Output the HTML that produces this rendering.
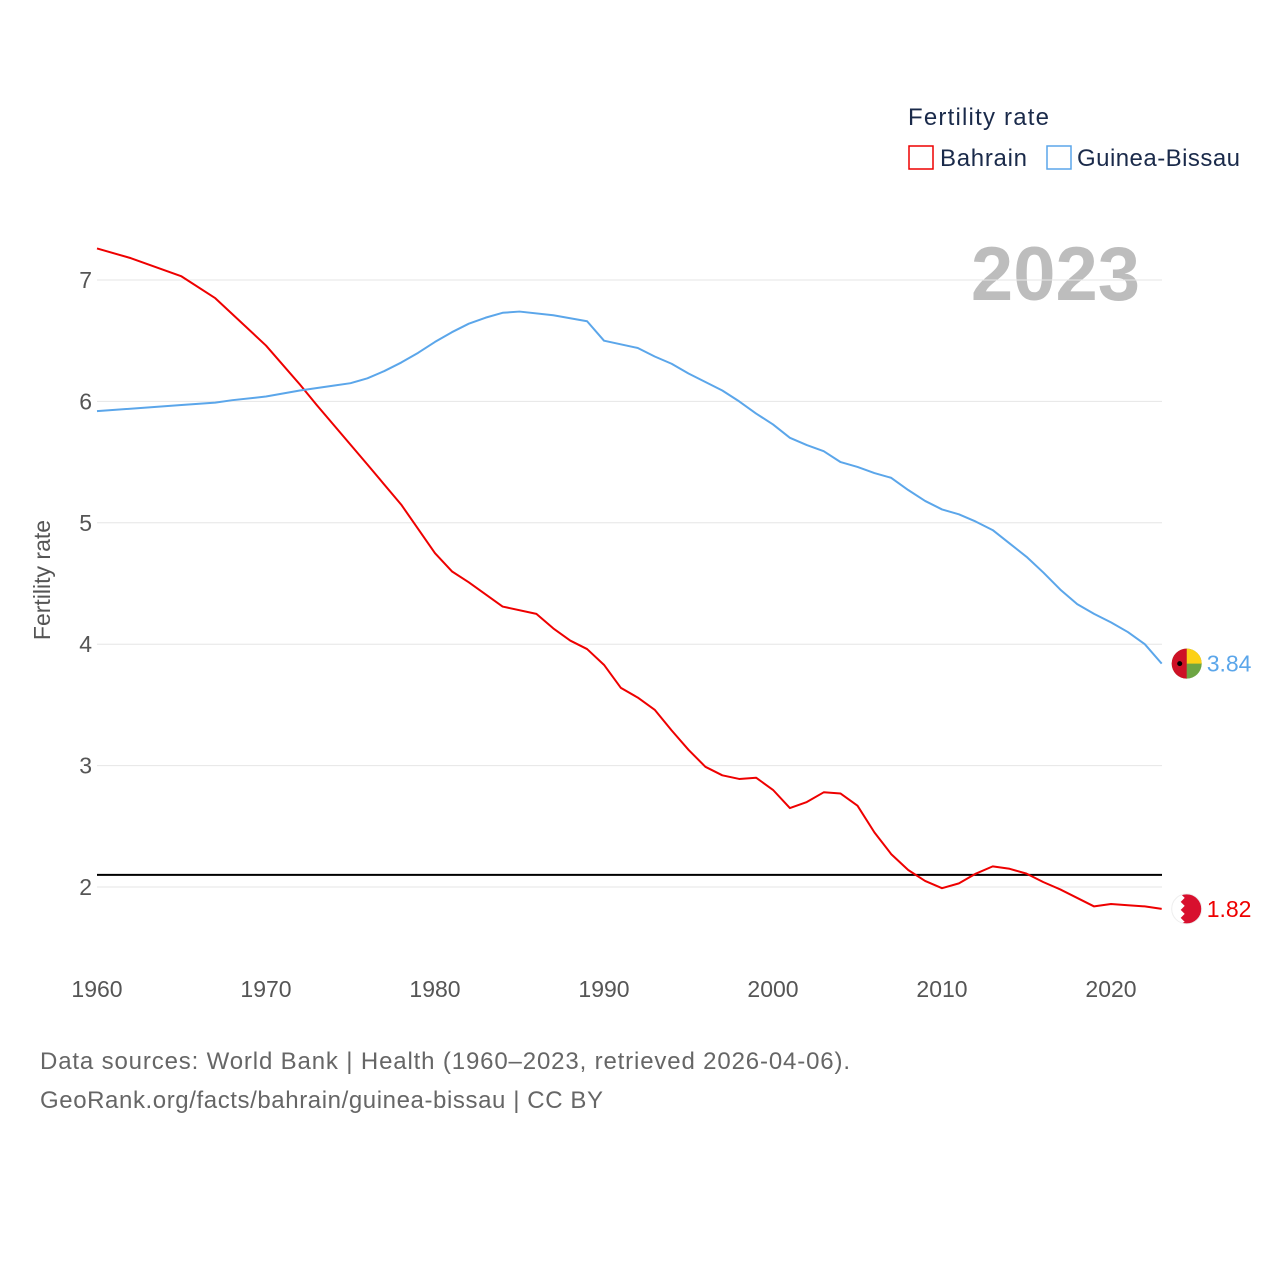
<!DOCTYPE html>
<html><head><meta charset="utf-8"><style>
body{margin:0;background:#fff;font-family:"Liberation Sans",sans-serif}
svg text{font-family:"Liberation Sans",sans-serif}
</style></head><body>
<svg id="chart" width="1280" height="1280" xmlns="http://www.w3.org/2000/svg">
<text x="908" y="125" font-size="24" fill="#1a2a4a" textLength="141">Fertility rate</text>
<rect x="909" y="146" width="24" height="23" fill="none" stroke="#e00" stroke-width="1.5"/>
<text x="940" y="166" font-size="24" fill="#1a2a4a" textLength="87">Bahrain</text>
<rect x="1047" y="146" width="24" height="23" fill="none" stroke="#5ba6ea" stroke-width="1.5"/>
<text x="1077" y="166" font-size="24" fill="#1a2a4a" textLength="163">Guinea-Bissau</text>
<text x="1140" y="300" font-size="76" font-weight="bold" fill="#bdbdbd" text-anchor="end">2023</text>
<g id="grid"></g>
<g id="xaxis"></g>
<text transform="translate(50,580) rotate(-90)" font-size="23" fill="#555" text-anchor="middle">Fertility rate</text>
<g id="series"></g>
<text x="40" y="1069" font-size="24" fill="#666" textLength="810">Data sources: World Bank | Health (1960–2023, retrieved 2026-04-06).</text>
<text x="40" y="1108" font-size="24" fill="#666" textLength="563">GeoRank.org/facts/bahrain/guinea-bissau | CC BY</text>
</svg>
<script>
const bhYears=[1960,1962,1965,1967,1970,1972,1973,1976,1978,1980,1981,1982,1983,1984,1986,1987,1988,1989,1990,1991,1992,1993,1994,1995,1996,1997,1998,1999,2000,2001,2002,2003,2004,2005,2006,2007,2008,2009,2010,2011,2012,2013,2014,2015,2016,2017,2018,2019,2020,2021,2022,2023];
const bhValues=[7.26,7.18,7.03,6.85,6.46,6.14,5.97,5.48,5.15,4.75,4.60,4.51,4.41,4.31,4.25,4.13,4.03,3.96,3.83,3.64,3.56,3.46,3.29,3.13,2.99,2.92,2.89,2.90,2.80,2.65,2.70,2.78,2.77,2.67,2.45,2.27,2.14,2.05,1.99,2.03,2.11,2.17,2.15,2.11,2.04,1.98,1.91,1.84,1.86,1.85,1.84,1.82];
const gbYears=[1960,1965,1967,1968,1970,1972,1974,1975,1976,1977,1978,1979,1980,1981,1982,1983,1984,1985,1987,1989,1990,1992,1993,1994,1995,1996,1997,1998,1999,2000,2001,2002,2003,2004,2005,2006,2007,2008,2009,2010,2011,2012,2013,2014,2015,2016,2017,2018,2019,2020,2021,2022,2023];
const gbValues=[5.92,5.97,5.99,6.01,6.04,6.09,6.13,6.15,6.19,6.25,6.32,6.40,6.49,6.57,6.64,6.69,6.73,6.74,6.71,6.66,6.50,6.44,6.37,6.31,6.23,6.16,6.09,6.00,5.90,5.81,5.70,5.64,5.59,5.50,5.46,5.41,5.37,5.27,5.18,5.11,5.07,5.01,4.94,4.83,4.72,4.59,4.45,4.33,4.25,4.18,4.10,4.00,3.84];
const yTicks=[2,3,4,5,6,7];
const xTicks=[1960,1970,1980,1990,2000,2010,2020];
const replacementRate=2.1;
const NS="http://www.w3.org/2000/svg";
const X=y=>97+(y-1960)*(1014/60);
const Y=v=>887-(v-2)*121.4;
function mk(tag,attrs,parent){const e=document.createElementNS(NS,tag);for(const k in attrs)e.setAttribute(k,attrs[k]);parent.appendChild(e);return e;}
const grid=document.getElementById('grid'),xa=document.getElementById('xaxis'),ser=document.getElementById('series');
yTicks.forEach(t=>{
 const l=mk('line',{x1:97,x2:1162,y1:Y(t),y2:Y(t),stroke:'#e6e6e6','stroke-width':1},grid);
 
 
 const tx=mk('text',{x:92,y:Y(t)+8,'font-size':23,fill:'#555','text-anchor':'end'},grid);
 tx.textContent=t;
 
 
});
xTicks.forEach(t=>{
 const tx=mk('text',{x:X(t),y:997,'font-size':23,fill:'#555','text-anchor':'middle'},xa);
 tx.textContent=t;
 
 
});
const ref=mk('line',{x1:97,x2:1162,y1:Y(replacementRate),y2:Y(replacementRate),stroke:'#000','stroke-width':2},ser);


function line(ys,vs,color,name){
 const p=mk('polyline',{points:ys.map((y,i)=>X(y)+','+Y(vs[i])).join(' '),fill:'none',stroke:color,'stroke-width':2,'stroke-linejoin':'round'},ser);
 
 
 const ly=ys[ys.length-1],lv=vs[vs.length-1],cx=X(ly)+25,cy=Y(lv);
 const g=mk('g',{},ser);
 
 
 return {g,cx,cy,lv};
}
const b=line(bhYears,bhValues,'#e00','bahrain');
mk('circle',{cx:b.cx,cy:b.cy,r:15,fill:'#d8102e'},b.g);
mk('path',{d:`M${b.cx-15},${b.cy-15} h9 l4,4 -4,4 4,4 -4,4 4,4 -4,4 4,4 -4,2 h-9z`,fill:'#fff'},b.g);
mk('circle',{cx:b.cx,cy:b.cy,r:15,fill:'none',stroke:'#eee'},b.g);
const bt=mk('text',{x:b.cx+20,y:b.cy+8,'font-size':23,fill:'#e00'},ser);
bt.textContent=b.lv.toFixed(2);


const gb=line(gbYears,gbValues,'#5ba6ea','guinea-bissau');
mk('circle',{cx:gb.cx,cy:gb.cy,r:15,fill:'#6da543'},gb.g);
mk('path',{d:`M${gb.cx},${gb.cy} h15 a15,15 0 0 0 -15,-15z`,fill:'#fcd116'},gb.g);
mk('path',{d:`M${gb.cx},${gb.cy-15} a15,15 0 0 0 0,30z`,fill:'#ce1126'},gb.g);
mk('circle',{cx:gb.cx-7,cy:gb.cy,r:2.5,fill:'#000'},gb.g);
const gt=mk('text',{x:gb.cx+20,y:gb.cy+8,'font-size':23,fill:'#5ba6ea'},ser);
gt.textContent=gb.lv.toFixed(2);


</script>
</body></html>
